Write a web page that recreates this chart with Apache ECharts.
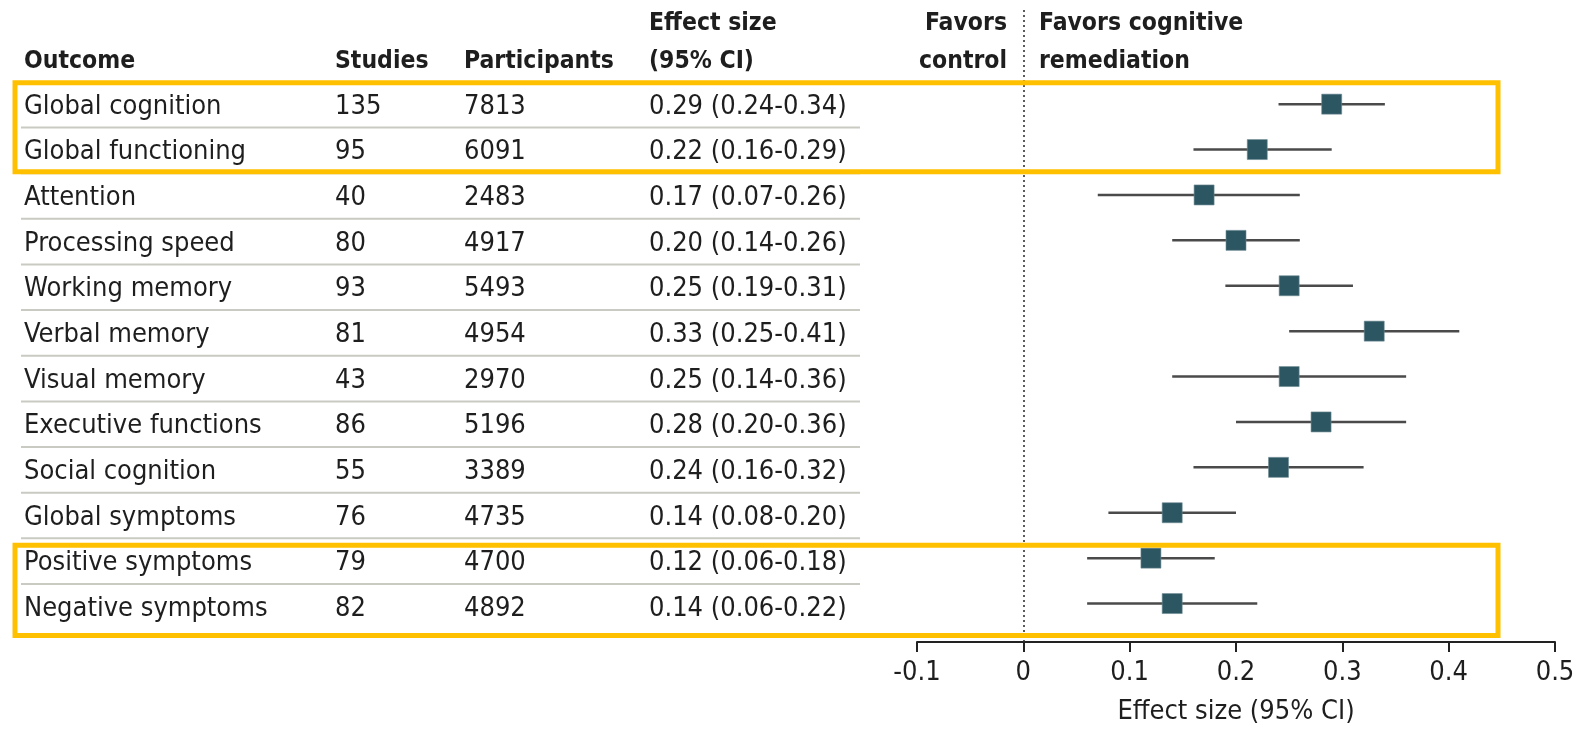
<!DOCTYPE html>
<html><head><meta charset="utf-8">
<script src="https://cdn.jsdelivr.net/npm/echarts@6/dist/echarts.min.js"></script>
<style>html,body{margin:0;padding:0;background:#fff}#c{width:1578px;height:730px}</style>
</head><body><div id="c"></div>
<script>
// ---- data ----
const outcomes = ["Global cognition","Global functioning","Attention","Processing speed","Working memory","Verbal memory","Visual memory","Executive functions","Social cognition","Global symptoms","Positive symptoms","Negative symptoms"];
const studies = [135, 95, 40, 80, 93, 81, 43, 86, 55, 76, 79, 82];
const participants = [7813, 6091, 2483, 4917, 5493, 4954, 2970, 5196, 3389, 4735, 4700, 4892];
const effect = [0.29, 0.22, 0.17, 0.20, 0.25, 0.33, 0.25, 0.28, 0.24, 0.14, 0.12, 0.14];
const ciLow  = [0.24, 0.16, 0.07, 0.14, 0.19, 0.25, 0.14, 0.20, 0.16, 0.08, 0.06, 0.06];
const ciHigh = [0.34, 0.29, 0.26, 0.26, 0.31, 0.41, 0.36, 0.36, 0.32, 0.20, 0.18, 0.22];
const headerCols = ["Outcome", "Studies", "Participants"];
const effectHeader = ["Effect size", "(95% CI)"];
const favorsLeft = ["Favors", "control"];
const favorsRight = ["Favors cognitive", "remediation"];
const axisTitle = "Effect size (95% CI)";
const highlightGroups = [[0, 1], [10, 11]];

// ---- layout ----
const FONT = '"DejaVu Sans Condensed", "DejaVu Sans", sans-serif';
const FS = 27, FSB = 24.5;
const TXT = '#1e1e1e';
const TEXT_DY = 2;
const colX = [24, 335, 464, 649];
const favL = 1007, favR = 1039;
const headY = [-1.81, -0.98];
const GRID_TOP = 10, GRID_BOTTOM = 84.5;
const Y_MIN = -2.074, Y_MAX = 11.847;
const boxSpans = [[-0.48, 1.47], [9.65, 11.63]];
const boxX = [15, 1498];
const sepX = [21, 860];

const texts = [];
headerCols.forEach((h, k) => texts.push([colX[k], headY[1], h, 'left', 'bold']));
effectHeader.forEach((h, k) => texts.push([colX[3], headY[k], h, 'left', 'bold']));
favorsLeft.forEach((h, k) => texts.push([favL, headY[k], h, 'right', 'bold']));
favorsRight.forEach((h, k) => texts.push([favR, headY[k], h, 'left', 'bold']));
outcomes.forEach((o, i) => {
  texts.push([colX[0], i, o, 'left', 'normal']);
  texts.push([colX[1], i, String(studies[i]), 'left', 'normal']);
  texts.push([colX[2], i, String(participants[i]), 'left', 'normal']);
  texts.push([colX[3], i, effect[i].toFixed(2) + ' (' + ciLow[i].toFixed(2) + '-' + ciHigh[i].toFixed(2) + ')', 'left', 'normal']);
});

const seps = [];
for (let i = 0; i < outcomes.length - 1; i++) seps.push(i + 0.5);

const chart = echarts.init(document.getElementById('c'), null, {renderer: 'canvas'});
chart.setOption({
  animation: false,
  backgroundColor: '#fff',
  grid: [
    {left: 917, right: 23, top: GRID_TOP, bottom: GRID_BOTTOM},
    {left: 0, right: 0, top: GRID_TOP, bottom: GRID_BOTTOM}
  ],
  xAxis: [
    {gridIndex: 0, type: 'value', min: -0.1, max: 0.5, interval: 0.1, position: 'bottom',
      axisLine: {show: true, onZero: false, lineStyle: {color: '#222', width: 2}},
      axisTick: {show: true, length: 10, lineStyle: {color: '#222', width: 2}},
      axisLabel: {color: TXT, fontSize: FS, fontFamily: FONT, margin: 17},
      splitLine: {show: false},
      name: axisTitle, nameLocation: 'middle', nameGap: 56,
      nameTextStyle: {color: TXT, fontSize: FS, fontFamily: FONT}},
    {gridIndex: 1, type: 'value', min: 0, max: 1578, show: false}
  ],
  yAxis: [
    {gridIndex: 0, type: 'value', min: Y_MIN, max: Y_MAX, inverse: true, show: false},
    {gridIndex: 1, type: 'value', min: Y_MIN, max: Y_MAX, inverse: true, show: false}
  ],
  series: [
    {
      type: 'custom', xAxisIndex: 1, yAxisIndex: 1, silent: true, z: 1,
      data: seps.map(s => [sepX[0], s]),
      renderItem(params, api) {
        const y = seps[params.dataIndex];
        const a = api.coord([sepX[0], y]), b = api.coord([sepX[1], y]);
        return {type: 'line', shape: {x1: a[0], y1: a[1], x2: b[0], y2: b[1]},
          style: {stroke: '#c9cac2', lineWidth: 2}};
      }
    },
    {
      type: 'custom', xAxisIndex: 1, yAxisIndex: 1, silent: true, z: 2,
      data: texts.map(t => [t[0], t[1]]),
      renderItem(params, api) {
        const t = texts[params.dataIndex];
        const p = api.coord([t[0], t[1]]);
        return {type: 'text', x: p[0], y: p[1] + TEXT_DY,
          style: {text: t[2], fill: TXT, fontSize: t[4] === 'bold' ? FSB : FS, fontFamily: FONT, fontWeight: t[4],
            align: t[3], verticalAlign: 'middle'}};
      }
    },
    {
      type: 'custom', xAxisIndex: 0, yAxisIndex: 0, silent: true, z: 3,
      data: outcomes.map((o, i) => [ciLow[i], ciHigh[i], i]),
      renderItem(params, api) {
        const i = params.dataIndex;
        const a = api.coord([ciLow[i], i]), b = api.coord([ciHigh[i], i]);
        return {type: 'line', shape: {x1: a[0], y1: a[1], x2: b[0], y2: b[1]},
          style: {stroke: '#4a4a4a', lineWidth: 2.5}};
      }
    },
    {
      type: 'scatter', xAxisIndex: 0, yAxisIndex: 0, silent: true, z: 4,
      symbol: 'rect', symbolSize: 20,
      itemStyle: {color: '#2c5662', opacity: 1, borderColor: '#6f8c94', borderWidth: 0.6},
      data: outcomes.map((o, i) => [effect[i], i]),
      markLine: {
        silent: true, symbol: ['none', 'none'], label: {show: false},
        lineStyle: {type: [2, 3], color: '#333', width: 1.6},
        data: [{xAxis: 0}]
      }
    },
    {
      type: 'custom', xAxisIndex: 1, yAxisIndex: 1, silent: true, z: 5,
      data: highlightGroups.map((g, k) => [boxX[0], boxSpans[k][0]]),
      renderItem(params, api) {
        const s = boxSpans[params.dataIndex];
        const a = api.coord([boxX[0], s[0]]), b = api.coord([boxX[1], s[1]]);
        return {type: 'rect', shape: {x: a[0], y: a[1], width: b[0] - a[0], height: b[1] - a[1]},
          style: {fill: 'none', stroke: '#FFC000', lineWidth: 5}};
      }
    }
  ]
});
</script>
</body></html>
